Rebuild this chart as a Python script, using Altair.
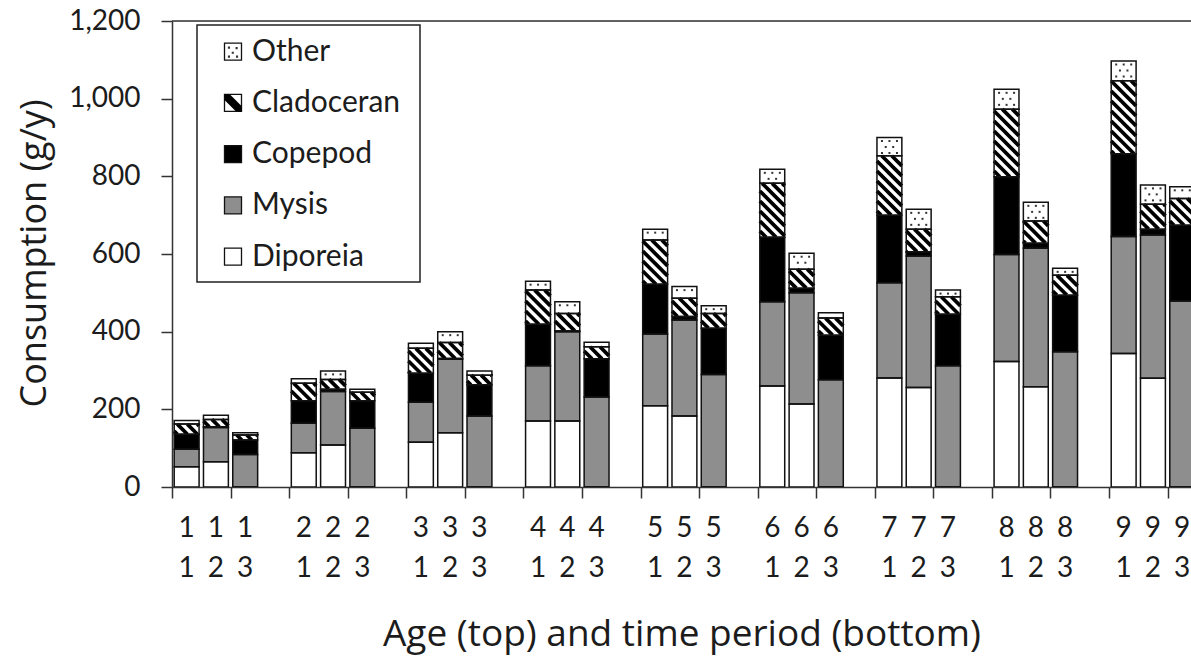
import altair as alt
import pandas as pd
import numpy as np

# ---------------- data ----------------
species = ["Diporeia", "Mysis", "Copepod", "Cladoceran", "Other"]
ages = [1, 2, 3, 4, 5, 6, 7, 8, 9]
periods = [1, 2, 3]
diporeia = [52, 65, 0, 88, 108, 0, 115, 140, 0, 170, 170, 0, 209, 183, 0,
            260, 214, 0, 281, 256, 0, 323, 258, 0, 344, 280, 0]
mysis = [45, 88, 84, 76, 138, 151, 103, 189, 183, 142, 230, 232, 185, 247, 290,
         217, 286, 276, 245, 339, 312, 276, 357, 348, 301, 369, 479]
copepod = [39, 2, 37, 58, 6, 71, 75, 2, 80, 107, 2, 98, 128, 9, 119,
           166, 12, 115, 174, 11, 133, 200, 13, 146, 213, 15, 195]
cladoceran = [26, 19, 13, 45, 25, 22, 64, 41, 25, 88, 45, 31, 114, 47, 38,
              139, 49, 44, 153, 58, 45, 174, 57, 51, 188, 64, 69]
other = [9, 11, 6, 12, 22, 8, 13, 28, 11, 23, 30, 12, 28, 30, 20,
         36, 41, 14, 47, 51, 17, 51, 48, 18, 51, 50, 30]
y_ticks = [0, 200, 400, 600, 800, 1000, 1200]
legend_order = ["Other", "Cladoceran", "Copepod", "Mysis", "Diporeia"]
fill_colors = ["#ffffff", "#8e8e8e", "#000000", "#ffffff", "#ffffff"]

# ---------------- layout ----------------
W, H = 1019, 466
X_MIN, X_MAX = -0.5, 34.3
Y_MAX = 1200
HALF = 0.425
FONT = "Lato"
TFONT = "Open Sans"
TXT = "#1c1c1c"
LINE = "#333333"

series = [diporeia, mysis, copepod, cladoceran, other]
rows, slots = [], []
i = 0
for g, a in enumerate(ages):
    for p in periods:
        s = 4 * g + (p - 1)
        slots.append({"slot": s, "age": str(a), "period": str(p)})
        for k, name in enumerate(species):
            rows.append({"slot": s, "species": name, "sidx": k, "value": series[k][i]})
        i += 1
df = pd.DataFrame(rows)
slot_df = pd.DataFrame(slots)

# pattern geometry (derived from the data values through the same scale mapping)
px_x = W / (X_MAX - X_MIN)
px_y = H / Y_MAX
def sx(x): return (x - X_MIN) * px_x
def sy(v): return (Y_MAX - v) * px_y
def ix(X): return X / px_x + X_MIN
def iy(Y): return Y_MAX - Y / px_y

stripes, dots = [], []
P = 10.0
for j, s in enumerate(slot_df["slot"]):
    lo = diporeia[j] + mysis[j] + copepod[j]
    hi = lo + cladoceran[j]
    L, R = sx(s - HALF), sx(s + HALF)
    T, B = sy(hi), sy(lo)
    # lines y = x + c, c = k*P - L, need c in [T-R, B-L]
    kmin = int(np.floor((T - R + L) / P)) - 1
    kmax = int(np.ceil(B / P)) + 1
    for k in range(kmin, kmax + 1):
        c = k * P - L
        x1 = max(L, T - c)
        x2 = min(R, B - c)
        if x2 - x1 > 0.6:
            stripes.append({"xa": ix(x1), "ya": iy(x1 + c), "xb": ix(x2), "yb": iy(x2 + c)})
    # dots for "Other"
    T2, B2 = sy(hi + other[j]), sy(hi)
    r = 0
    yy = T2 + 3.5
    while yy <= B2 - 2.5:
        cols = [5.0, 12.5, 20.0] if r % 2 == 0 else [8.75, 16.25]
        for cx in cols:
            dots.append({"x": ix(L + cx), "y": iy(yy)})
        yy += 6.0
        r += 1
stripe_df = pd.DataFrame(stripes)
dot_df = pd.DataFrame(dots)

xscale = alt.Scale(domain=[X_MIN, X_MAX], nice=False, zero=False)
yscale = alt.Scale(domain=[0, Y_MAX], nice=False)
fscale = alt.Scale(domain=species, range=fill_colors)

x_axis = alt.Axis(values=[k - 0.5 for k in range(35)], labels=False, tickSize=11,
                  tickColor=LINE, tickWidth=1.5, domainColor=LINE, domainWidth=1.5,
                  grid=False, title="Age (top) and time period (bottom)",
                  titleFont=TFONT, titleFontSize=37, titleFontWeight="normal",
                  titleColor=TXT, titleY=147, titleBaseline="middle")
y_axis = alt.Axis(values=y_ticks, format=",.0f", tickSize=11, tickColor=LINE, tickWidth=1.5,
                  domainColor=LINE, domainWidth=1.5, grid=False, labelPadding=21,
                  labelFont=FONT, labelFontSize=28, labelColor=TXT,
                  title="Consumption (g/y)", titleFont=TFONT, titleFontSize=36,
                  titleFontWeight="normal", titleColor=TXT, titleAngle=270,
                  titleX=-138, titleY=232, titleAlign="center", titleBaseline="middle")

base = alt.Chart(df).transform_calculate(
    x0=f"datum.slot - {HALF}", x1=f"datum.slot + {HALF}"
).transform_stack(
    stack="value", groupby=["slot"], as_=["lo", "hi"],
    sort=[alt.SortField("sidx", order="ascending")], offset="zero"
)

bars = base.mark_rect(strokeWidth=0, clip=True).encode(
    x=alt.X("x0:Q", scale=xscale, axis=x_axis),
    x2="x1:Q",
    y=alt.Y("lo:Q", scale=yscale, axis=y_axis),
    y2="hi:Q",
    fill=alt.Fill("species:N", scale=fscale, legend=None),
)

stripe_layer = alt.Chart(stripe_df).mark_rule(
    stroke="#000000", strokeWidth=3.7, strokeCap="butt", clip=True
).encode(
    x=alt.X("xa:Q", scale=xscale), x2="xb:Q",
    y=alt.Y("ya:Q", scale=yscale), y2="yb:Q",
)

dot_layer = alt.Chart(dot_df).mark_square(size=4, color="#333333", opacity=1, clip=True).encode(
    x=alt.X("x:Q", scale=xscale), y=alt.Y("y:Q", scale=yscale)
)

outline = base.mark_rect(fillOpacity=0, stroke="#111111", strokeWidth=1.5, clip=True).encode(
    x=alt.X("x0:Q", scale=xscale), x2="x1:Q",
    y=alt.Y("lo:Q", scale=yscale), y2="hi:Q",
)

top_line = alt.Chart(pd.DataFrame({"y": [y_ticks[-1]]})).mark_rule(
    color=LINE, strokeWidth=1.5
).encode(y=alt.Y("y:Q", scale=yscale), x=alt.value(0), x2=alt.value(W))

age_labels = alt.Chart(slot_df).mark_text(
    font=FONT, fontSize=28, color=TXT, baseline="middle", align="center"
).encode(x=alt.X("slot:Q", scale=xscale), y=alt.value(H + 42), text="age:N")

period_labels = alt.Chart(slot_df).mark_text(
    font=FONT, fontSize=28, color=TXT, baseline="middle", align="center"
).encode(x=alt.X("slot:Q", scale=xscale), y=alt.value(H + 82), text="period:N")

main = alt.layer(bars, stripe_layer, dot_layer, outline, top_line, age_labels, period_labels)

# ---------------- legend ----------------
leg_df = pd.DataFrame({"name": legend_order})
leg_y = alt.Y("name:N", scale=alt.Scale(domain=legend_order, range=[30.7, 235.7], padding=0), axis=None)

leg_box = alt.Chart(pd.DataFrame({"a": [0]})).mark_rect(
    fill="white", stroke="#222222", strokeWidth=1.5
).encode(x=alt.value(25), x2=alt.value(248), y=alt.value(4), y2=alt.value(261))

leg_sym = alt.Chart(leg_df).mark_point(
    shape="square", size=289, filled=True, stroke="#111111", strokeWidth=1.3, opacity=1
).encode(x=alt.value(61), y=leg_y, fill=alt.Fill("name:N", scale=fscale, legend=None))

band_path = "M-1,-1 L-0.35,-1 L1,0.35 L1,1 L0.35,1 L-1,-0.35 Z"
dots_path = ("M-0.6,-0.6h0.25v0.25h-0.25Z M0.3,-0.55h0.25v0.25h-0.25Z "
             "M-0.15,0.0h0.25v0.25h-0.25Z M-0.6,0.45h0.25v0.25h-0.25Z M0.35,0.45h0.25v0.25h-0.25Z")

leg_band = alt.Chart(leg_df).transform_filter(alt.datum.name == "Cladoceran").mark_point(
    shape=band_path, size=289, filled=True, color="#000000", opacity=1, strokeWidth=0
).encode(x=alt.value(61), y=leg_y)

leg_dots = alt.Chart(leg_df).transform_filter(alt.datum.name == "Other").mark_point(
    shape=dots_path, size=289, filled=True, color="#333333", opacity=1, strokeWidth=0
).encode(x=alt.value(61), y=leg_y)

leg_text = alt.Chart(leg_df).mark_text(
    font=FONT, fontSize=30, color=TXT, align="left", baseline="middle"
).encode(x=alt.value(80), y=leg_y, text="name:N")

legend = alt.layer(leg_box, leg_sym, leg_band, leg_dots, leg_text)

chart = alt.layer(main, legend).resolve_scale(y="independent").properties(
    width=W, height=H, autosize=alt.AutoSizeParams(type="none"),
    padding={"left": 172, "top": 21, "right": 0, "bottom": 171},
).configure_view(stroke=None).configure(font=FONT)

chart.save("out.html", embed_options={"renderer": "svg", "actions": False})
